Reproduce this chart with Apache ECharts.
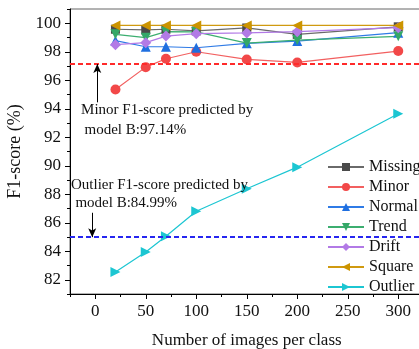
<!DOCTYPE html>
<html>
<head>
<meta charset="utf-8">
<script src="https://cdn.jsdelivr.net/npm/echarts@6/dist/echarts.min.js"></script>
<style>
  html, body { margin: 0; padding: 0; background: #fff; }
  #chart { width: 419px; height: 349px; }
</style>
</head>
<body>
<div id="chart"></div>
<script>
// Training-set size per class
const imagesPerClass = [20, 50, 70, 100, 150, 200, 300];

// F1-score (%) per anomaly class
const missing = [99.58, 99.53, 99.58, 99.46, 99.67, 99.22, 99.75];
const minor   = [95.35, 96.92, 97.51, 98.00, 97.46, 97.25, 98.05];
const normal  = [98.78, 98.35, 98.35, 98.28, 98.59, 98.75, 99.34];
const trend   = [99.22, 98.99, 99.41, 99.39, 98.61, 98.82, 99.08];
const drift   = [98.50, 98.64, 99.10, 99.27, 99.32, 99.41, 99.69];
const square  = [99.85, 99.85, 99.85, 99.85, 99.85, 99.85, 99.85];
const outlier = [82.55, 83.95, 85.05, 86.81, 88.39, 89.90, 93.65];

// Reference scores of model B
const minorRef = 97.14;
const outlierRef = 84.99;

// Tick labels and minor tick positions
const xTicks = [0, 50, 100, 150, 200, 250, 300];
const xMinorTicks = [-25, 25, 75, 125, 175, 225, 275, 325];
const yTicks = [82, 84, 86, 88, 90, 92, 94, 96, 98, 100];
const yMinorTicks = [81, 83, 85, 87, 89, 91, 93, 95, 97, 99, 101];

const FONT = '"Liberation Serif", "Times New Roman", serif';

const seriesDefs = [
  { name: 'Missing', data: missing, color: '#4a4a4a', line: '#6a6a6a', symbol: 'rect', size: 9, rotate: 0 },
  { name: 'Minor',   data: minor,   color: '#f24848', line: '#f26060', symbol: 'circle', size: 10, rotate: 0 },
  { name: 'Normal',  data: normal,  color: '#1f6fe0', line: '#2f7be6', symbol: 'triangle', size: 10, rotate: 0 },
  { name: 'Trend',   data: trend,   color: '#34a868', line: '#3cae70', symbol: 'triangle', size: 10, rotate: 180 },
  { name: 'Drift',   data: drift,   color: '#b27ae6', line: '#b27ae6', symbol: 'diamond', size: [11, 11], rotate: 0 },
  { name: 'Square',  data: square,  color: '#cc9400', line: '#d09a10', symbol: 'triangle', size: 10, rotate: 90 },
  { name: 'Outlier', data: outlier, color: '#1cc6d2', line: '#1cc6d2', symbol: 'triangle', size: 10, rotate: -90 }
];

const chart = echarts.init(document.getElementById('chart'));

const series = seriesDefs.map(d => ({
  name: d.name,
  type: 'line',
  data: imagesPerClass.map((x, i) => [x, d.data[i]]),
  symbol: d.symbol,
  symbolSize: d.size,
  symbolRotate: d.rotate,
  showSymbol: true,
  itemStyle: { color: d.color },
  lineStyle: { color: d.line, width: 1.2 },
  z: 3
}));

// Dashed reference lines
series.push({
  name: 'refs',
  type: 'line',
  data: [],
  silent: true,
  markLine: {
    silent: true,
    symbol: 'none',
    label: { show: false },
    data: [
      { yAxis: minorRef, lineStyle: { color: '#ff2a2a', type: [5, 3], width: 2 } },
      { yAxis: outlierRef, lineStyle: { color: '#2626f0', type: [5, 3], width: 2 } }
    ]
  },
  z: 4
});

// Annotation arrows pointing to the reference lines
series.push({
  name: 'arrows',
  type: 'line',
  data: [],
  silent: true,
  markLine: {
    silent: true,
    symbol: ['none', 'arrow'],
    symbolSize: [6, 9],
    label: { show: false },
    lineStyle: { color: '#000', type: 'solid', width: 1 },
    data: [
      [{ xAxis: 2, yAxis: 94.45 }, { xAxis: 2, yAxis: minorRef }],
      [{ xAxis: -3, yAxis: 86.7 }, { xAxis: -3, yAxis: outlierRef }]
    ]
  },
  z: 5
});

const axisFont = { fontFamily: FONT, fontSize: 17, color: '#111' };

chart.setOption({
  animation: false,
  backgroundColor: '#fff',
  grid: {
    left: 70, top: 9, right: -4.5, bottom: 55,
    outerBoundsMode: 'none',
    containLabel: false,
    show: true, borderColor: '#666', borderWidth: 1
  },
  legend: {
    orient: 'vertical',
    left: 327,
    top: 159,
    padding: 0,
    itemWidth: 36,
    itemHeight: 10,
    itemGap: 4,
    data: seriesDefs.map(d => d.name),
    textStyle: { fontFamily: FONT, fontSize: 16, color: '#111', lineHeight: 16 }
  },
  xAxis: [{
    type: 'value',
    min: -25,
    max: 325,
    name: 'Number of images per class',
    nameLocation: 'middle',
    nameGap: 38,
    nameTextStyle: axisFont,
    axisLine: { show: true, onZero: false, lineStyle: { color: '#000', width: 1 } },
    axisTick: { show: true, inside: false, length: 5, customValues: xTicks, lineStyle: { color: '#000' } },
    axisLabel: Object.assign({ margin: 9, customValues: xTicks }, axisFont),
    splitLine: { show: false }
  }, {
    // minor ticks between the labelled values
    type: 'value',
    position: 'bottom',
    min: -25,
    max: 325,
    axisLine: { show: false, onZero: false },
    axisTick: { show: true, inside: false, length: 3, customValues: xMinorTicks, lineStyle: { color: '#000' } },
    axisLabel: { show: false },
    splitLine: { show: false }
  }],
  yAxis: [{
    type: 'value',
    min: 81,
    max: 101,
    name: 'F1-score (%)',
    nameLocation: 'middle',
    nameGap: 34,
    nameTextStyle: { fontFamily: FONT, fontSize: 18, color: '#111' },
    axisLine: { show: true, onZero: false, lineStyle: { color: '#000', width: 1 } },
    axisTick: { show: true, inside: false, length: 5, customValues: yTicks, lineStyle: { color: '#000' } },
    axisLabel: Object.assign({ margin: 9, customValues: yTicks }, axisFont),
    splitLine: { show: false }
  }, {
    // minor ticks between the labelled values
    type: 'value',
    position: 'left',
    min: 81,
    max: 101,
    axisLine: { show: false, onZero: false },
    axisTick: { show: true, inside: false, length: 3, customValues: yMinorTicks, lineStyle: { color: '#000' } },
    axisLabel: { show: false },
    splitLine: { show: false }
  }],
  series: series
});

// Annotation text anchored in data coordinates
function place(x, y) { return chart.convertToPixel({ xAxisIndex: 0, yAxisIndex: 0 }, [x, y]); }
const notes = [
  { text: 'Minor F1-score predicted by', at: [-14, 93.93] },
  { text: 'model B:97.14%', at: [-10.6, 92.52] },
  { text: 'Outlier F1-score predicted by', at: [-24, 88.65] },
  { text: 'model B:84.99%', at: [-19.6, 87.38] }
];
chart.setOption({
  graphic: notes.map(n => {
    const p = place(n.at[0], n.at[1]);
    return {
      type: 'text', x: p[0], y: p[1], z: 10,
      style: { text: n.text, fontFamily: FONT, fontSize: 15, fill: '#111', verticalAlign: 'middle', align: 'left' }
    };
  })
});
</script>
</body>
</html>
